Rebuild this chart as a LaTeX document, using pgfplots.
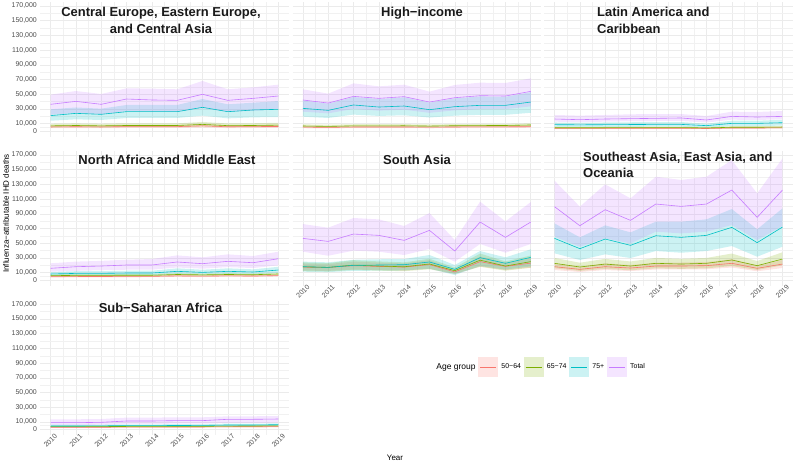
\documentclass[border=0pt]{standalone}
\usepackage{fontspec}
\setmainfont{Liberation Sans}
\usepackage{pgfplots}
\pgfplotsset{compat=1.18}
\usepackage{pgfplotstable}
\usepgfplotslibrary{fillbetween}
\definecolor{cA}{HTML}{F8766D}
\definecolor{cB}{HTML}{7CAE00}
\definecolor{cC}{HTML}{00BFC4}
\definecolor{cD}{HTML}{C77CFF}
\definecolor{tickgray}{HTML}{4D4D4D}
\definecolor{gridc}{HTML}{EBEBEB}

% Central Europe, Eastern Europe, and Central Asia
\pgfplotstableread{
year r rlo rhi g glo ghi c clo chi t tlo thi
2010 5500 3800 7400 7000 5000 9800 20900 14000 29500 36300 22000 49400
2011 5800 4000 7800 7500 5300 10300 24000 15900 32000 40300 24500 54400
2012 5500 3800 7400 7000 5000 9800 22700 15000 30400 36300 22500 50300
2013 6000 4100 8100 7500 5300 10500 26300 17700 35400 43500 27000 58000
2014 6000 4100 8100 7500 5300 10500 26300 17700 35400 42200 26500 57600
2015 6000 4100 8100 7500 5300 10400 26300 17700 35400 41700 26000 56700
2016 7000 4800 9400 9000 6400 12300 32200 20900 43500 49900 31000 68000
2017 5800 4000 7800 7300 5200 10200 26300 17200 36300 41700 26000 56700
2018 6000 4100 8100 7500 5300 10500 28600 18600 38500 44400 27500 59400
2019 6200 4200 8400 8000 5600 11200 29500 19000 40800 47600 29500 63000
}\tA
% High-income
\pgfplotstableread{
year r rlo rhi g glo ghi c clo chi t tlo thi
2010 5300 3800 7000 6800 5000 9000 30800 19500 41400 42200 26300 56700
2011 5000 3500 6700 6300 4500 8500 28100 17700 37200 38000 24000 50800
2012 5400 3900 7100 7000 5200 9200 35400 22300 46200 47100 30000 64800
2013 5400 3900 7100 7000 5200 9200 32600 20500 43500 44400 27700 60700
2014 5500 4000 7200 7100 5300 9300 34000 21400 45800 46700 29000 63000
2015 5200 3700 6900 6700 4900 8900 29000 18300 38600 39400 24700 53500
2016 5500 4000 7200 7200 5400 9400 33100 20900 44400 45300 28100 62600
2017 5600 4100 7300 7400 5600 9600 34900 22000 47000 48000 29700 65700
2018 5700 4200 7400 7500 5700 9700 34900 22000 46600 47600 29700 65300
2019 5900 4400 7600 8200 6400 10400 39400 24800 52800 53900 33500 71600
}\tB
% Latin America and Caribbean
\pgfplotstableread{
year r rlo rhi g glo ghi c clo chi t tlo thi
2010 3600 2600 4800 4500 3300 5800 8600 5600 11600 16300 12700 21800
2011 3500 2500 4700 4400 3200 5700 8400 5500 11300 15400 12000 20900
2012 3600 2600 4800 4500 3300 5800 8600 5600 11600 16300 12700 21800
2013 3700 2700 4900 4600 3400 5900 8800 5700 11900 16800 13100 22700
2014 3700 2700 4900 4700 3500 6000 9000 5900 12200 17200 13300 23100
2015 3800 2800 5000 4700 3500 6000 9000 5900 12200 17700 13600 23100
2016 3400 2400 4600 4200 3000 5500 7300 4700 9900 15000 11500 20400
2017 4100 3000 5400 5100 3800 6600 10400 6800 14000 19900 15400 26300
2018 4100 3000 5400 5100 3800 6600 10400 6800 14000 19000 15000 25900
2019 4300 3200 5600 5400 4000 6900 11300 7300 15300 19900 15900 27200
}\tC
% North Africa and Middle East
\pgfplotstableread{
year r rlo rhi g glo ghi c clo chi t tlo thi
2010 4500 3300 5900 5900 4400 7700 8200 5900 10900 15900 11300 22700
2011 4700 3500 6100 6300 4800 8100 9000 6400 12000 18100 12500 25000
2012 4800 3600 6200 6300 4800 8100 9000 6400 12000 19000 13200 26000
2013 4900 3700 6300 6500 5000 8300 9500 6800 12600 20400 14000 27600
2014 5000 3800 6400 6500 5000 8300 9500 6800 12600 20400 14000 28500
2015 5600 4400 7000 7500 6000 9300 11800 8400 15900 24500 17000 33500
2016 5200 4000 6600 7000 5500 8800 10400 7400 14000 22200 15400 30800
2017 5700 4500 7100 7500 6000 9300 11800 8400 15900 25400 17500 34900
2018 5400 4200 6800 7200 5700 9000 10900 7700 14500 23500 16300 32600
2019 6000 4800 7400 8200 6700 10000 13600 9700 18000 29000 20000 38500
}\tD
% South Asia
\pgfplotstableread{
year r rlo rhi g glo ghi c clo chi t tlo thi
2010 17500 12800 22500 18000 12000 24000 18100 11300 25000 56600 38500 76100
2011 17000 12400 21800 17200 11500 23000 17200 10800 24000 52500 33000 71100
2012 19500 14200 25000 20300 13600 27000 19900 12400 27500 62500 39900 84300
2013 18500 13500 23700 19000 12700 25300 20400 12700 28200 60700 38500 82400
2014 17500 12800 22500 18000 12000 24000 20800 13000 28500 53900 34000 73400
2015 21000 15300 27000 21800 14600 29000 24500 15400 34000 67500 42200 91000
2016 11000 8000 14200 12700 8500 17000 14500 6800 20400 39400 24900 54400
2017 25000 18200 32000 27000 18000 36000 30400 19000 39400 78800 49000 106500
2018 18500 13500 23700 19000 12700 25300 22700 14200 30800 58000 37100 79700
2019 23000 16800 29500 25000 16700 33300 30800 18500 41700 78800 49000 106000
}\tE
% Southeast Asia, East Asia, and Oceania
\pgfplotstableread{
year r rlo rhi g glo ghi c clo chi t tlo thi
2010 18100 13600 22700 22700 15900 30000 56600 36300 77000 99700 58900 135000
2011 14500 10900 18200 17700 12400 23500 42600 27200 58000 73800 45300 99700
2012 18100 13600 22700 21700 15200 28800 55700 34900 74300 95600 56600 130000
2013 16300 12200 20400 19000 13300 25200 47100 29900 64800 81100 49800 111000
2014 19000 14300 23800 22700 15900 30000 60200 39400 79300 103300 65700 140400
2015 19000 14300 23800 21700 15200 28800 58000 37100 79300 100100 63400 136000
2016 19500 14600 24400 22700 15900 30000 60700 39400 82500 103300 65700 140400
2017 22700 17000 28400 27200 19000 36000 71600 46200 96500 122300 74700 163000
2018 15900 11900 19900 19500 13700 25800 50800 31700 68900 85200 54400 117800
2019 21700 16300 27200 28500 20000 37700 72000 45300 97400 122300 73400 165300
}\tF
% Sub-Saharan Africa
\pgfplotstableread{
year r rlo rhi g glo ghi c clo chi t tlo thi
2010 2700 1900 3500 3600 2600 4600 4500 3100 6300 9000 5900 13600
2011 2700 1900 3500 3600 2600 4600 4500 3100 6300 9000 5900 13600
2012 2800 2000 3600 3700 2700 4700 4700 3300 6500 9500 6300 14000
2013 3000 2200 3800 3900 2900 4900 5000 3600 6800 11300 7300 15900
2014 3000 2200 3800 3900 2900 4900 5000 3600 6800 11300 7300 15900
2015 3100 2300 3900 4000 3000 5000 5200 3800 7000 11800 7700 16300
2016 3200 2400 4000 4100 3100 5100 5300 3900 7100 11800 7700 16300
2017 3400 2600 4200 4400 3400 5400 5900 4500 7700 13600 8600 17700
2018 3500 2700 4300 4500 3500 5500 5900 4500 7700 13600 8600 17700
2019 3600 2800 4400 4700 3700 5700 6300 4900 8100 14000 9100 18100
}\tG

\pgfplotsset{
  panel/.style={
    scale only axis, width=248.2bp, height=134.6bp,
    xmin=2009.6, xmax=2019.4, ymin=-8000, ymax=175000,
    xtick={2010,2011,...,2019},
    ytick={0,10000,30000,50000,70000,90000,110000,130000,150000,170000},
    minor xtick={2010.5,2011.5,...,2018.5},
    minor ytick={5000,20000,40000,60000,80000,100000,120000,140000,160000},
    grid=both,
    major grid style={color=gridc, line width=0.55bp},
    minor grid style={color=gridc!70, line width=0.3bp},
    axis line style={draw=none},
    major tick length=0pt, minor tick length=0pt,
    scaled y ticks=false,
    tick label style={font=\fontsize{7}{8}\selectfont, text=tickgray},
    /pgf/number format/assume math mode=true,
    yticklabel style={/pgf/number format/.cd, fixed, 1000 sep={,}},
    xticklabel style={/pgf/number format/.cd, 1000 sep={}, /tikz/.cd, yshift=-5.5bp, rotate=45, anchor=center, inner sep=0pt},
  },
  nox/.style={xticklabels={}},
  noy/.style={yticklabels={}},
}

\newcommand\grp[3]{%
  \addplot[draw=none, name path=L#2, forget plot] table[x=year,y=#2lo]{#1};
  \addplot[draw=none, name path=H#2, forget plot] table[x=year,y=#2hi]{#1};
  \addplot[fill=#3, fill opacity=0.2, draw=none, forget plot] fill between[of=L#2 and H#2];
}
\newcommand\mline[3]{%
  \addplot[#3, line width=0.6bp, forget plot] table[x=year,y=#2]{#1};
}
\newcommand\allgroups[1]{%
  \grp{#1}{r}{cA}\grp{#1}{g}{cB}\grp{#1}{c}{cC}\grp{#1}{t}{cD}%
  \mline{#1}{r}{cA}\mline{#1}{g}{cB}\mline{#1}{c}{cC}\mline{#1}{t}{cD}%
}

\begin{document}
\begin{tikzpicture}

% Row 1
\begin{axis}[panel, nox, at={(40.4bp,328.1bp)}, anchor=south west]
\allgroups{\tA}
\end{axis}
\begin{axis}[panel, nox, noy, at={(292.7bp,328.1bp)}, anchor=south west]
\allgroups{\tB}
\end{axis}
\begin{axis}[panel, nox, noy, at={(544.4bp,328.1bp)}, anchor=south west]
\allgroups{\tC}
\end{axis}

% Row 2
\begin{axis}[panel, nox, at={(40.4bp,179.1bp)}, anchor=south west]
\allgroups{\tD}
\end{axis}
\begin{axis}[panel, noy, at={(292.7bp,179.1bp)}, anchor=south west]
\allgroups{\tE}
\end{axis}
\begin{axis}[panel, noy, at={(544.4bp,179.1bp)}, anchor=south west]
\allgroups{\tF}
\end{axis}

% Row 3
\begin{axis}[panel, at={(40.4bp,29.8bp)}, anchor=south west,
  legend columns=5,
  legend style={at={(1.5818,0.5067)}, anchor=west, draw=none, fill=none,
    font=\fontsize{7}{8}\selectfont, inner sep=0pt,
    nodes={inner sep=0.8bp},
    /tikz/every odd column/.append style={column sep=2.5bp},
    /tikz/every even column/.append style={column sep=1.8bp}},
  legend image code/.code={%
    \fill[fill opacity=0.2, draw=none] (0bp,-10bp) rectangle (20bp,10bp);
    \draw[line width=0.6bp] (2bp,0bp) -- (18bp,0bp);}
]
\allgroups{\tG}
\addlegendimage{empty legend}
\addlegendentry{\fontsize{8.5}{9}\selectfont Age group}
\addlegendimage{color=cA}
\addlegendentry{50−64}
\addlegendimage{color=cB}
\addlegendentry{65−74}
\addlegendimage{color=cC}
\addlegendentry{75+}
\addlegendimage{color=cD}
\addlegendentry{Total}
\end{axis}

% Panel titles
\begin{scope}[every node/.style={font=\fontsize{13}{16.5}\selectfont\bfseries, text=black!90, inner sep=0pt}]
\node[align=center] at (161bp,444.5bp) {Central Europe, Eastern Europe,\\and Central Asia};
\node at (422bp,452bp) {High−income};
\node[align=left, anchor=west] at (597bp,444.5bp) {Latin America and\\Caribbean};
\node at (167bp,305bp) {North Africa and Middle East};
\node at (417bp,305bp) {South Asia};
\node[align=left, anchor=west] at (583bp,300bp) {Southeast Asia, East Asia, and\\Oceania};
\node at (160.5bp,157bp) {Sub−Saharan Africa};
\end{scope}

% Axis titles
\node[rotate=90, font=\fontsize{8}{9}\selectfont, inner sep=0pt] at (6bp,251.5bp) {Influenza−attributable IHD deaths};
\node[font=\fontsize{8}{9}\selectfont, inner sep=0pt] at (395bp,7bp) {Year};

\pgfresetboundingbox
\useasboundingbox (0,0) rectangle (793bp,465bp);
\end{tikzpicture}
\end{document}
